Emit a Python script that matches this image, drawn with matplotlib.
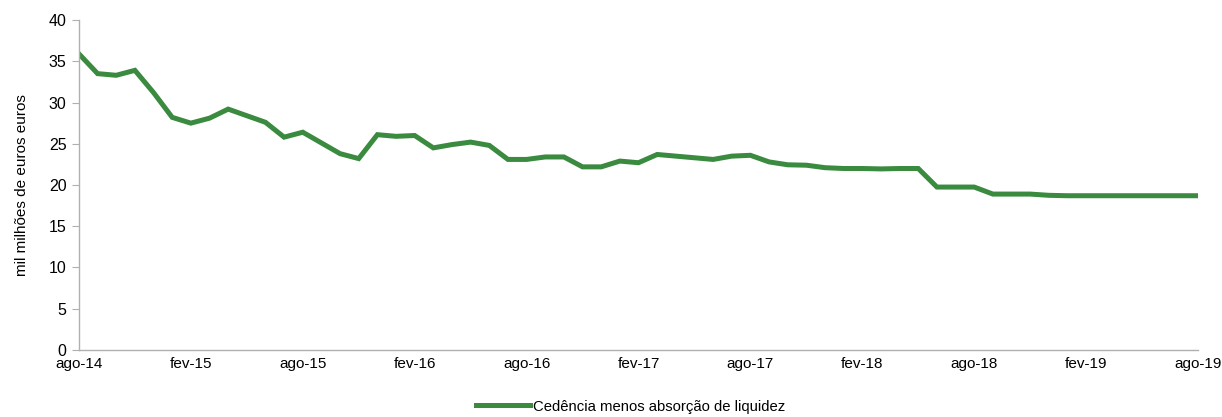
import matplotlib
matplotlib.use("Agg")
import matplotlib.pyplot as plt

plt.rcParams['font.family'] = ['Liberation Sans', 'DejaVu Sans']

# monthly values, ago-14 .. ago-19
values = [35.9, 33.5, 33.3, 33.9, 31.2, 28.2, 27.5, 28.1, 29.2, 28.4,
          27.6, 25.8, 26.4, 25.1, 23.8, 23.2, 26.1, 25.9, 26.0, 24.5,
          24.9, 25.2, 24.8, 23.1, 23.1, 23.4, 23.4, 22.2, 22.2, 22.9,
          22.7, 23.7, 23.5, 23.3, 23.1, 23.5, 23.6, 22.8, 22.45, 22.4,
          22.1, 22.0, 22.0, 21.95, 22.0, 22.0, 19.75, 19.75, 19.75, 18.9,
          18.9, 18.9, 18.75, 18.7, 18.7, 18.7, 18.7, 18.7, 18.7, 18.7,
          18.7]
tick_labels = ['ago-14', 'fev-15', 'ago-15', 'fev-16', 'ago-16', 'fev-17',
               'ago-17', 'fev-18', 'ago-18', 'fev-19', 'ago-19']
series_name = 'Cedência menos absorção de liquidez'

fig = plt.figure(figsize=(12.22, 4.17), dpi=100)
ax = fig.add_axes([0.0646, 0.1607, 0.9158, 0.7913])

ax.plot(range(len(values)), values, color='#3a8a3f', lw=3.6,
        solid_joinstyle='miter', label=series_name)

ax.set_xlim(0, len(values) - 1)
ax.set_ylim(0, 40)
ax.set_yticks(range(0, 41, 5))
ax.set_xticks(range(0, len(values), 6))
ax.set_xticklabels(tick_labels)

for side in ['top', 'right']:
    ax.spines[side].set_visible(False)
for side in ['left', 'bottom']:
    ax.spines[side].set_color('#b0b0b0')
    ax.spines[side].set_linewidth(1.0)
ax.tick_params(axis='y', length=5, color='#b0b0b0', labelsize=11.5, pad=4)
ax.tick_params(axis='x', length=0, labelsize=11, pad=5)
ax.set_ylabel('mil milhões de euros euros', fontsize=11, labelpad=14)

ax.legend(loc='upper center', bbox_to_anchor=(0.493, -0.11), frameon=False,
          fontsize=10.7, handlelength=3.6, handletextpad=0.2)

fig.savefig('out.png', dpi=100)
